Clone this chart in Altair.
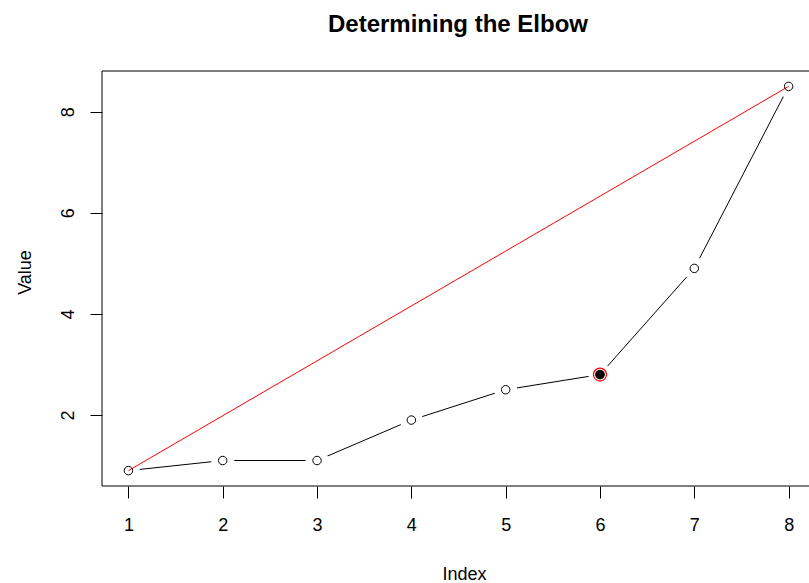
import altair as alt
import pandas as pd

# Index / value series and the highlighted elbow
index = [1, 2, 3, 4, 5, 6, 7, 8]
value = [0.9, 1.1, 1.1, 1.9, 2.5, 2.8, 4.9, 8.5]
elbow_index = 6

x_ticks = [1, 2, 3, 4, 5, 6, 7, 8]
y_ticks = [2, 4, 6, 8]

W, H = 707, 415
AXIS_FONT = "Liberation Sans, Arial, sans-serif"
AXIS_SIZE = 18

df = pd.DataFrame({"Index": index, "Value": value})
# straight chord from the first to the last point
chord = pd.DataFrame({"Index": [index[0], index[-1]], "Value": [value[0], value[-1]]})
elbow = df[df["Index"] == elbow_index]

x_enc = alt.X(
    "Index:Q",
    scale=alt.Scale(domain=[0.72, 8.216], nice=False, zero=False),
    axis=alt.Axis(
        values=x_ticks, format="d", title="Index", grid=False, domain=False,
        tickSize=12, tickColor="black", tickWidth=1,
        labelFont=AXIS_FONT, labelFontSize=AXIS_SIZE, labelColor="black",
        labelBaseline="alphabetic", labelPadding=32,
        titleFont=AXIS_FONT, titleFontSize=AXIS_SIZE, titleFontWeight="normal",
        titleColor="black", titleX=362, titleY=93,
        titleAlign="center", titleBaseline="alphabetic",
    ),
)
y_enc = alt.Y(
    "Value:Q",
    scale=alt.Scale(domain=[0.596, 8.804], nice=False, zero=False),
    axis=alt.Axis(
        values=y_ticks, format="d", title="Value", grid=False, domain=False,
        tickSize=12, tickColor="black", tickWidth=1,
        labelFont=AXIS_FONT, labelFontSize=AXIS_SIZE, labelColor="black",
        labelAngle=270, labelAlign="center", labelBaseline="alphabetic",
        labelPadding=17,
        titleFont=AXIS_FONT, titleFontSize=AXIS_SIZE, titleFontWeight="normal",
        titleColor="black", titleAngle=270, titleX=-72, titleY=201,
        titleAlign="center", titleBaseline="alphabetic",
    ),
)

base = alt.Chart(df).encode(x=x_enc, y=y_enc)

line = base.mark_line(color="black", strokeWidth=1)
# white discs open a gap in the connecting line around each point
halo = base.mark_circle(color="white", size=530, opacity=1)
chord_line = alt.Chart(chord).mark_line(color="red", strokeWidth=1).encode(x=x_enc, y=y_enc)
points = base.mark_point(shape="circle", filled=False, color="black", size=72,
                         strokeWidth=1, opacity=1)
elbow_dot = alt.Chart(elbow).mark_circle(color="black", size=85, opacity=1).encode(x=x_enc, y=y_enc)
elbow_ring = alt.Chart(elbow).mark_point(shape="circle", filled=False, color="red",
                                         size=170, strokeWidth=1.2, opacity=1).encode(x=x_enc, y=y_enc)

# plot frame: left, top and bottom edges
frame_data = alt.Data(values=[{}])
left_edge = alt.Chart(frame_data).mark_rule(color="black", strokeWidth=1).encode(
    x=alt.value(0), y=alt.value(0), y2=alt.value(H))
top_edge = alt.Chart(frame_data).mark_rule(color="black", strokeWidth=1).encode(
    x=alt.value(0), x2=alt.value(W), y=alt.value(0))
bottom_edge = alt.Chart(frame_data).mark_rule(color="black", strokeWidth=1).encode(
    x=alt.value(0), x2=alt.value(W), y=alt.value(H))

chart = alt.layer(
    line, halo, chord_line, points, elbow_dot, elbow_ring,
    left_edge, top_edge, bottom_edge,
).properties(
    width=W,
    height=H,
    title=alt.TitleParams(
        "Determining the Elbow", font="Liberation Sans", fontSize=24,
        fontWeight="bold", color="black", anchor="middle", frame="group",
        offset=15, baseline="alphabetic", dx=2.5,
    ),
    padding={"left": 102, "top": 71, "right": 0, "bottom": 97},
    autosize=alt.AutoSizeParams(type="none"),
    background="white",
).configure_view(stroke=None)

chart.save("out.html", embed_options={"renderer": "svg", "actions": False})
